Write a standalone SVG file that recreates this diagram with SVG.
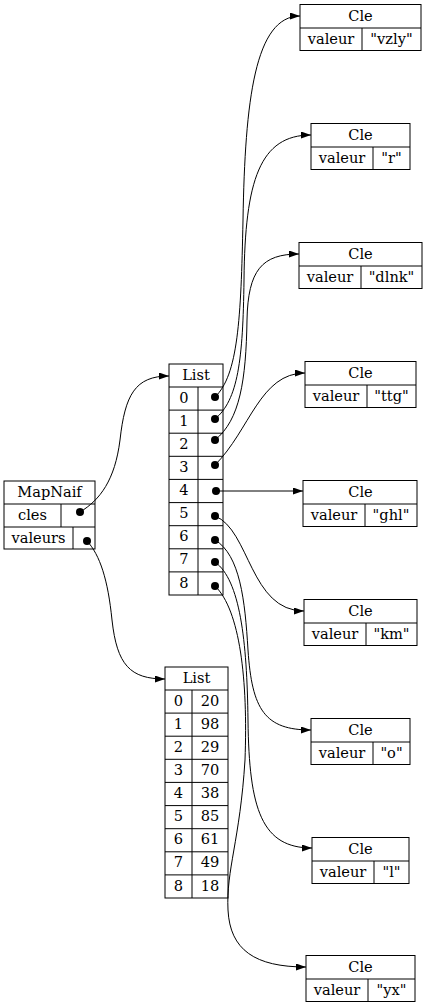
<svg xmlns="http://www.w3.org/2000/svg" width="427" height="1007" viewBox="0 0 427 1007">
<style>
.b{fill:#fff;stroke:#000;stroke-width:1}
.l{stroke:#000;stroke-width:1;fill:none}
text{font-family:"DejaVu Serif","Liberation Serif",serif;font-size:14.6px;fill:#000;text-anchor:middle}
.e{fill:none;stroke:#000;stroke-width:1}
.d{fill:#000}
</style>
<defs>
<marker id="ah" markerWidth="10" markerHeight="7" refX="10" refY="3.5" orient="auto" markerUnits="userSpaceOnUse">
<polygon points="0,0 10,3.5 0,7" fill="#000"/>
</marker>
</defs>
<rect width="427" height="1007" fill="#fff"/>

<g id="mapnaif">
<rect class="b" x="4" y="481" width="91" height="68"/>
<line class="l" x1="4" y1="504" x2="95" y2="504"/>
<line class="l" x1="4" y1="527" x2="95" y2="527"/>
<line class="l" x1="61" y1="504" x2="61" y2="527"/>
<line class="l" x1="73" y1="527" x2="73" y2="549"/>
<text x="49.5" y="497">MapNaif</text>
<text x="32.5" y="520">cles</text>
<text x="38.5" y="543">valeurs</text>
<circle class="d" cx="80" cy="512" r="4"/>
<circle class="d" cx="87" cy="541" r="4"/>
</g>

<g id="list1">
<rect class="b" x="169" y="364" width="54" height="231"/>
<line class="l" x1="169" y1="387" x2="223" y2="387"/>
<line class="l" x1="169" y1="410.1" x2="223" y2="410.1"/>
<line class="l" x1="169" y1="433.2" x2="223" y2="433.2"/>
<line class="l" x1="169" y1="456.3" x2="223" y2="456.3"/>
<line class="l" x1="169" y1="479.4" x2="223" y2="479.4"/>
<line class="l" x1="169" y1="502.6" x2="223" y2="502.6"/>
<line class="l" x1="169" y1="525.7" x2="223" y2="525.7"/>
<line class="l" x1="169" y1="548.8" x2="223" y2="548.8"/>
<line class="l" x1="169" y1="571.9" x2="223" y2="571.9"/>
<line class="l" x1="198" y1="387" x2="198" y2="595"/>
<text x="196" y="380">List</text>
<text x="184" y="403">0</text>
<text x="184" y="426">1</text>
<text x="184" y="449">2</text>
<text x="184" y="472">3</text>
<text x="184" y="495">4</text>
<text x="184" y="518">5</text>
<text x="184" y="541">6</text>
<text x="184" y="564">7</text>
<text x="184" y="588">8</text>
<circle class="d" cx="215" cy="397" r="4"/>
<circle class="d" cx="215" cy="419" r="4"/>
<circle class="d" cx="215" cy="440" r="4"/>
<circle class="d" cx="215" cy="465" r="4"/>
<circle class="d" cx="216" cy="491" r="4"/>
<circle class="d" cx="215" cy="516" r="4"/>
<circle class="d" cx="215" cy="540" r="4"/>
<circle class="d" cx="215" cy="562" r="4"/>
<circle class="d" cx="215" cy="586" r="4"/>
</g>

<g id="list2">
<rect class="b" x="165" y="667" width="63" height="231"/>
<line class="l" x1="165" y1="690" x2="228" y2="690"/>
<line class="l" x1="165" y1="713.1" x2="228" y2="713.1"/>
<line class="l" x1="165" y1="736.2" x2="228" y2="736.2"/>
<line class="l" x1="165" y1="759.3" x2="228" y2="759.3"/>
<line class="l" x1="165" y1="782.4" x2="228" y2="782.4"/>
<line class="l" x1="165" y1="805.6" x2="228" y2="805.6"/>
<line class="l" x1="165" y1="828.7" x2="228" y2="828.7"/>
<line class="l" x1="165" y1="851.8" x2="228" y2="851.8"/>
<line class="l" x1="165" y1="874.9" x2="228" y2="874.9"/>
<line class="l" x1="192" y1="690" x2="192" y2="898"/>
<text x="196.5" y="683">List</text>
<text x="178.5" y="706">0</text><text x="210" y="706">20</text>
<text x="178.5" y="729">1</text><text x="210" y="729">98</text>
<text x="178.5" y="752">2</text><text x="210" y="752">29</text>
<text x="178.5" y="775">3</text><text x="210" y="775">70</text>
<text x="178.5" y="798">4</text><text x="210" y="798">38</text>
<text x="178.5" y="821">5</text><text x="210" y="821">85</text>
<text x="178.5" y="844">6</text><text x="210" y="844">61</text>
<text x="178.5" y="867">7</text><text x="210" y="867">49</text>
<text x="178.5" y="891">8</text><text x="210" y="891">18</text>
</g>

<g id="cle1">
<rect class="b" x="300" y="4.5" width="121" height="46"/>
<line class="l" x1="300" y1="28" x2="421" y2="28"/>
<line class="l" x1="362" y1="28" x2="362" y2="50.5"/>
<text x="360.5" y="21">Cle</text>
<text x="331" y="44">valeur</text>
<text x="391.5" y="44">"vzly"</text>
</g>
<g id="cle2">
<rect class="b" x="311" y="123.5" width="99" height="46"/>
<line class="l" x1="311" y1="147" x2="410" y2="147"/>
<line class="l" x1="373" y1="147" x2="373" y2="169.5"/>
<text x="360.5" y="140">Cle</text>
<text x="342" y="163">valeur</text>
<text x="391.5" y="163">"r"</text>
</g>
<g id="cle3">
<rect class="b" x="299" y="242.5" width="123" height="46"/>
<line class="l" x1="299" y1="266" x2="422" y2="266"/>
<line class="l" x1="361" y1="266" x2="361" y2="288.5"/>
<text x="360.5" y="259">Cle</text>
<text x="330" y="282">valeur</text>
<text x="391.5" y="282">"dlnk"</text>
</g>
<g id="cle4">
<rect class="b" x="305" y="361.5" width="111" height="46"/>
<line class="l" x1="305" y1="385" x2="416" y2="385"/>
<line class="l" x1="367" y1="385" x2="367" y2="407.5"/>
<text x="360.5" y="378">Cle</text>
<text x="336" y="401">valeur</text>
<text x="391.5" y="401">"ttg"</text>
</g>
<g id="cle5">
<rect class="b" x="303" y="480.5" width="114" height="46"/>
<line class="l" x1="303" y1="504" x2="417" y2="504"/>
<line class="l" x1="365" y1="504" x2="365" y2="526.5"/>
<text x="360.5" y="497">Cle</text>
<text x="334" y="520">valeur</text>
<text x="391" y="520">"ghl"</text>
</g>
<g id="cle6">
<rect class="b" x="304" y="599.5" width="113" height="46"/>
<line class="l" x1="304" y1="623" x2="417" y2="623"/>
<line class="l" x1="366" y1="623" x2="366" y2="645.5"/>
<text x="360.5" y="616">Cle</text>
<text x="335" y="639">valeur</text>
<text x="391.5" y="639">"km"</text>
</g>
<g id="cle7">
<rect class="b" x="311" y="718.5" width="99" height="46"/>
<line class="l" x1="311" y1="742" x2="410" y2="742"/>
<line class="l" x1="373" y1="742" x2="373" y2="764.5"/>
<text x="360.5" y="735">Cle</text>
<text x="342" y="758">valeur</text>
<text x="391.5" y="758">"o"</text>
</g>
<g id="cle8">
<rect class="b" x="312" y="837.5" width="97" height="46"/>
<line class="l" x1="312" y1="861" x2="409" y2="861"/>
<line class="l" x1="374" y1="861" x2="374" y2="883.5"/>
<text x="360.5" y="854">Cle</text>
<text x="343" y="877">valeur</text>
<text x="391.5" y="877">"l"</text>
</g>
<g id="cle9">
<rect class="b" x="306" y="955.5" width="109" height="46"/>
<line class="l" x1="306" y1="979" x2="415" y2="979"/>
<line class="l" x1="368" y1="979" x2="368" y2="1001.5"/>
<text x="360.5" y="972">Cle</text>
<text x="337" y="995">valeur</text>
<text x="391.5" y="995">"yx"</text>
</g>

<g id="connectors">
<path class="e" marker-end="url(#ah)" d="M80,512 C100,500 115,480 120,440 C125,395 135,376 169,376"/>
<path class="e" marker-end="url(#ah)" d="M87,541 C100,555 108,580 112,620 C117,665 130,679 165,679"/>
<path class="e" marker-end="url(#ah)" d="M215,397 C238,375 241,320 243,220 C245,100 255,16 300,16"/>
<path class="e" marker-end="url(#ah)" d="M215,419 C238,400 243,360 244,280 C245,180 260,135 311,135"/>
<path class="e" marker-end="url(#ah)" d="M215,440 C240,420 246,380 247,320 C248,270 262,254 299,254"/>
<path class="e" marker-end="url(#ah)" d="M215,465 C250,430 260,373 305,373"/>
<path class="e" marker-end="url(#ah)" d="M216,491 L303,491"/>
<path class="e" marker-end="url(#ah)" d="M215,516 C250,530 250,611 304,611"/>
<path class="e" marker-end="url(#ah)" d="M215,540 C240,555 245,600 248,650 C252,710 265,730 311,730"/>
<path class="e" marker-end="url(#ah)" d="M215,562 C240,580 247,640 248,720 C249,810 262,848 312,848"/>
<path class="e" marker-end="url(#ah)" d="M215,586 C240,610 248,680 245,760 C240,840 226,870 228,910 C230,950 255,967 306,967"/>
</g>
</svg>
